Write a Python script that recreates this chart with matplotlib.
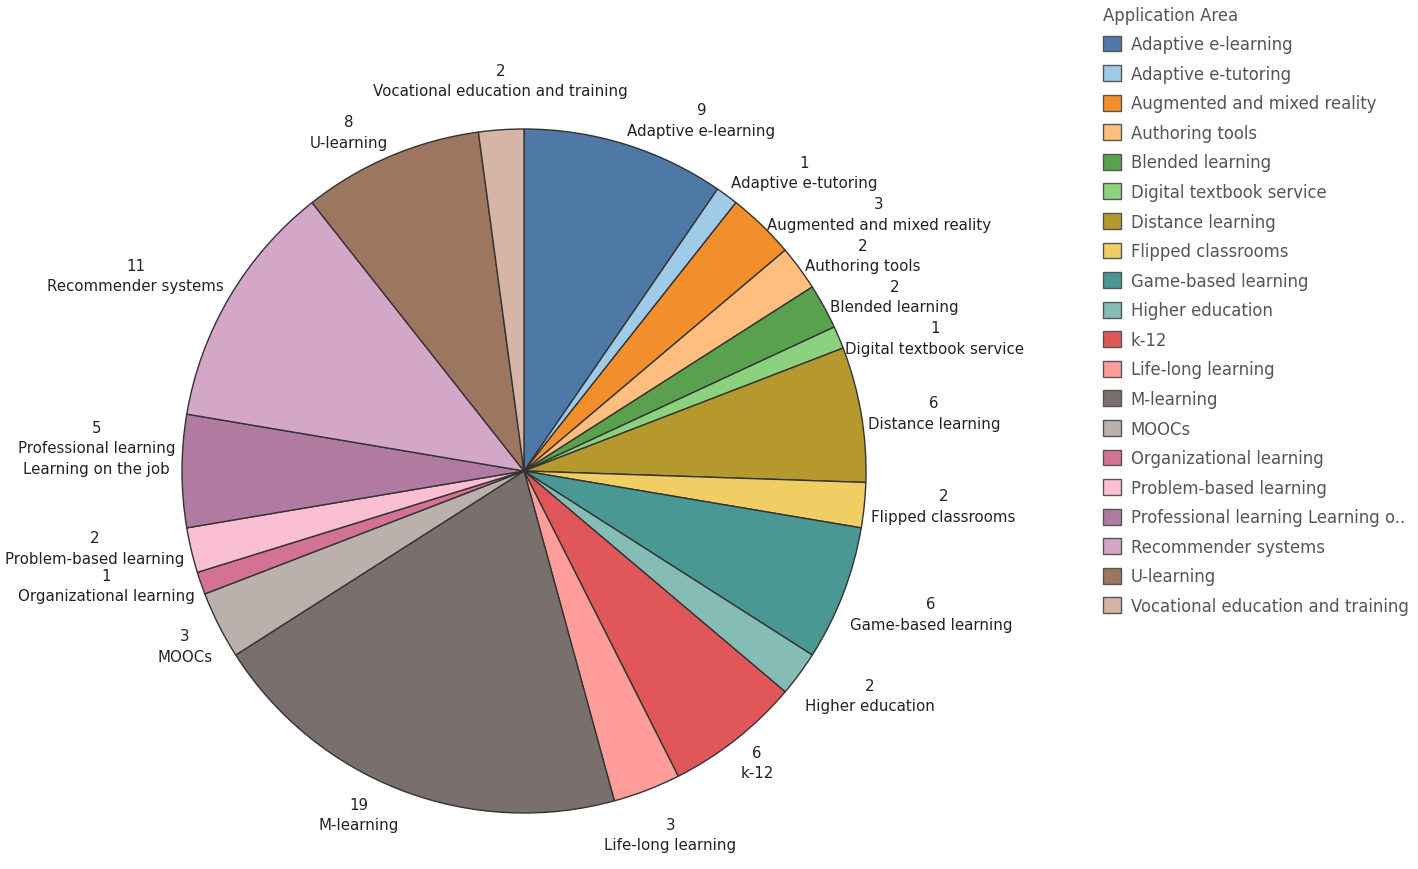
import numpy as np
import matplotlib.pyplot as plt
from matplotlib.patches import Patch

areas = [
    'Adaptive e-learning', 'Adaptive e-tutoring', 'Augmented and mixed reality',
    'Authoring tools', 'Blended learning', 'Digital textbook service',
    'Distance learning', 'Flipped classrooms', 'Game-based learning',
    'Higher education', 'k-12', 'Life-long learning', 'M-learning', 'MOOCs',
    'Organizational learning', 'Problem-based learning',
    'Professional learning\nLearning on the job', 'Recommender systems',
    'U-learning', 'Vocational education and training',
]
counts = [9, 1, 3, 2, 2, 1, 6, 2, 6, 2, 6, 3, 19, 3, 1, 2, 5, 11, 8, 2]
colors = [
    '#4E79A7', '#A0CBE8', '#F28E2B', '#FFBE7D', '#59A14F', '#8CD17D',
    '#B6992D', '#F1CE63', '#499894', '#86BCB6', '#E15759', '#FF9D9A',
    '#79706E', '#BAB0AC', '#D37295', '#FABFD2', '#B07AA1', '#D4A6C8',
    '#9D7660', '#D7B5A6',
]

W, H = 1418, 870
cx, cy, r_px = 524, 472, 342

fig = plt.figure(figsize=(W / 100, H / 100), dpi=100)
ax = fig.add_axes([0, 0, 1, 1])

wedges, _ = ax.pie(counts, colors=colors, startangle=90, counterclock=False,
                   radius=1.0, wedgeprops=dict(edgecolor='#333333', linewidth=1.0))
ax.set_aspect('auto')
ax.set_xlim(-cx / r_px, (W - cx) / r_px)
ax.set_ylim(-(H - cy) / r_px, cy / r_px)
ax.axis('off')

# a few labels get pushed aside to avoid their neighbours (pixels)
nudge = {
    'Vocational education and training': (0, 25),
    'Life-long learning': (-45, -20),
    'Professional learning\nLearning on the job': (0, 23),
}

# labels outside the rim, value on top of the name
total = float(sum(counts))
cum = np.cumsum([0] + counts[:-1])
right, left = [], []
for name, c, start in zip(areas, counts, cum):
    theta = np.radians((start + c / 2) / total * 360)
    s, co = np.sin(theta), np.cos(theta)
    if s > 0.2:
        ha = 'left'
    elif s < -0.2:
        ha = 'right'
    else:
        ha = 'center'
    if co > 0.35:
        va = 'bottom'
    elif co < -0.35:
        va = 'top'
    else:
        va = 'center'
    ann = ax.annotate(f'{c}\n{name}', xy=(1.02 * s, 1.02 * co),
                      xytext=nudge.get(name, (0, 0)), textcoords='offset pixels',
                      ha=ha, va=va, multialignment='center',
                      fontsize=10.8, color='#222222', linespacing=1.45)
    (right if s > 0 else left).append(ann)

# simple collision pass: right side pushed down, left side pushed up
fig.canvas.draw()
rend = fig.canvas.get_renderer()


def spread(items, down, gap):
    prev = None
    for ann in items:
        bb = ann.get_window_extent(rend)
        if prev is not None and bb.x0 < prev.x1 and bb.x1 > prev.x0:
            dx, dy = ann.xyann
            if down:
                over = bb.y1 - (prev.y0 - gap)
                if over > 0:
                    ann.xyann = (dx, dy - over)
            else:
                over = (prev.y1 + gap) - bb.y0
                if over > 0:
                    ann.xyann = (dx, dy + over)
            bb = ann.get_window_extent(rend)
        prev = bb


spread(right, down=True, gap=6)
spread(left, down=False, gap=2)

# legend
def short(name):
    name = name.replace('\n', ' ')
    return name[:32] + '..' if len(name) > 33 else name

handles = [Patch(facecolor=col, edgecolor='#555555', linewidth=1.0) for col in colors]
leg = fig.legend(handles, [short(a) for a in areas], title='Application Area',
                 loc='upper left', bbox_to_anchor=(1096 / W, 1.0),
                 frameon=False, fontsize=11.9, title_fontsize=11.9,
                 handlelength=1.1, handleheight=1.1, handletextpad=0.6,
                 labelspacing=0.70, borderaxespad=0)
leg._legend_box.align = 'left'
for t in leg.get_texts():
    t.set_color('#555555')
leg.get_title().set_color('#555555')

fig.savefig('out.png', dpi=100)
